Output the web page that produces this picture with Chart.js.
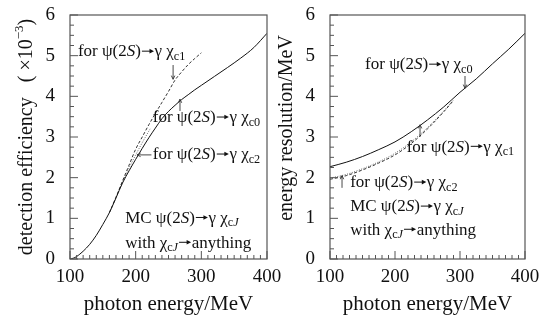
<!DOCTYPE html>
<html>
<head>
<meta charset="UTF-8">
<title>efficiency and resolution</title>
<script src="https://cdn.jsdelivr.net/npm/chart.js"></script>
<style>
  body { margin: 0; background: #fff; }
  .painel { position: absolute; top: 0; height: 324px; }
</style>
</head>
<body>
<div class="painel" style="left:0;width:290px"><canvas id="cEff" width="290" height="324"></canvas></div>
<div class="painel" style="left:270px;width:270px"><canvas id="cRes" width="270" height="324"></canvas></div>
<script>
// ---- dados ----
// eficiência (x 10^-3) vs energia do fóton (MeV)
const effE_c0 = [100, 105, 110, 115, 120, 130, 140, 150, 160, 170, 180, 190, 200, 210, 220, 230, 240, 250, 260, 270, 280, 290, 300, 320, 340, 360, 380, 400];
const eff_c0  = [0, 0.02, 0.06, 0.12, 0.19, 0.36, 0.58, 0.85, 1.14, 1.50, 1.87, 2.17, 2.45, 2.72, 2.98, 3.22, 3.45, 3.63, 3.78, 3.92, 4.04, 4.16, 4.27, 4.49, 4.71, 4.94, 5.20, 5.55];
const effE_c1 = [160, 170, 180, 190, 200, 210, 220, 230, 240, 250, 260, 270, 280, 290, 300];
const eff_c1  = [1.14, 1.52, 1.92, 2.31, 2.70, 3.00, 3.30, 3.58, 3.85, 4.12, 4.40, 4.60, 4.78, 4.93, 5.07];
const effE_c2 = [160, 170, 180, 190, 200, 210, 222];
const eff_c2  = [1.14, 1.51, 1.90, 2.24, 2.56, 2.86, 3.20];

// resolução (MeV) vs energia do fóton (MeV)
const resE_c0 = [100, 125, 150, 175, 200, 225, 250, 275, 300, 325, 350, 375, 400];
const res_c0  = [2.27, 2.38, 2.52, 2.69, 2.88, 3.13, 3.42, 3.74, 4.10, 4.43, 4.80, 5.16, 5.55];
const resE_c1 = [100, 125, 150, 175, 200, 225, 250, 275, 290];
const res_c1  = [1.96, 2.05, 2.19, 2.36, 2.56, 2.84, 3.20, 3.62, 3.90];
const resE_c2 = [100, 125, 150, 175, 200, 225, 250, 275, 290];
const res_c2  = [1.99, 2.08, 2.22, 2.39, 2.60, 2.88, 3.23, 3.64, 3.91];

const xTicks = [100, 200, 300, 400];
const yTicks = [0, 1, 2, 3, 4, 5, 6];

const SERIF = '"Liberation Serif", "DejaVu Serif", serif';

function pontos(xs, ys) {
    return xs.map((x, i) => ({ x: x, y: ys[i] }));
}

// textos com índices: n normal, i itálico, s subscrito, si subscrito itálico, a seta, p sobrescrito
function reacao(canal) {
    return [['for ψ(2', 'n'], ['S', 'i'], [')', 'n'], ['→', 'a'], ['γ χ', 'n'], [canal, 's']];
}
const linhaMC = [['MC ψ(2', 'n'], ['S', 'i'], [')', 'n'], ['→', 'a'], ['γ χ', 'n'], ['c', 's'], ['J', 'si']];
const linhaWith = [['with χ', 'n'], ['c', 's'], ['J', 'si'], ['→', 'a'], ['anything', 'n']];

function larguraParte(ctx, p, tam) {
    if (p[1] == 'a') return tam * 0.8;
    let f = tam, estilo = '';
    if (p[1] == 'i' || p[1] == 'si') estilo = 'italic ';
    if (p[1] == 's' || p[1] == 'si') f = tam * 0.72;
    if (p[1] == 'p') f = tam * 0.65;
    ctx.font = estilo + f + 'px ' + SERIF;
    return ctx.measureText(p[0]).width;
}

function desenhaRico(ctx, x, y, partes, tam) {
    ctx.textBaseline = 'middle';
    ctx.textAlign = 'left';
    let px = x;
    partes.forEach(function (p) {
        const w = larguraParte(ctx, p, tam);
        if (p[1] == 'a') {
            // seta pequena com ponta cheia, como na figura
            const ya = y - tam * 0.05;
            ctx.save();
            ctx.strokeStyle = ctx.fillStyle;
            ctx.lineWidth = 1;
            ctx.beginPath();
            ctx.moveTo(px + 1, ya);
            ctx.lineTo(px + w - 4, ya);
            ctx.stroke();
            ctx.beginPath();
            ctx.moveTo(px + w - 0.5, ya);
            ctx.lineTo(px + w - 5, ya - 2.3);
            ctx.lineTo(px + w - 5, ya + 2.3);
            ctx.closePath();
            ctx.fill();
            ctx.restore();
        } else {
            let dy = 0;
            if (p[1] == 's' || p[1] == 'si') dy = tam * 0.28;
            if (p[1] == 'p') dy = -tam * 0.38;
            ctx.fillText(p[0], px, y + dy);
        }
        px += w;
    });
    return px - x;
}

function seta(ctx, x1, y1, x2, y2) {
    ctx.beginPath();
    ctx.moveTo(x1, y1);
    ctx.lineTo(x2, y2);
    const a = Math.atan2(y2 - y1, x2 - x1);
    const h = 4;
    ctx.moveTo(x2 - h * Math.cos(a - 0.45), y2 - h * Math.sin(a - 0.45));
    ctx.lineTo(x2, y2);
    ctx.lineTo(x2 - h * Math.cos(a + 0.45), y2 - h * Math.sin(a + 0.45));
    ctx.stroke();
}

// moldura, ticks para dentro, títulos e anotações
const moldura = {
    id: 'moldura',
    afterDraw(chart, args, opts) {
        const ctx = chart.ctx;
        const a = chart.chartArea;
        const xs = chart.scales.x, ys = chart.scales.y;
        ctx.save();
        ctx.strokeStyle = '#555';
        ctx.lineWidth = 1.2;
        ctx.strokeRect(a.left, a.top, a.right - a.left, a.bottom - a.top);

        ctx.lineWidth = 1;
        ctx.beginPath();
        for (let v = 100; v <= 400; v += 10) {
            const px = xs.getPixelForValue(v);
            const len = (v % 100 == 0) ? 8 : 4;
            ctx.moveTo(px, a.bottom);
            ctx.lineTo(px, a.bottom - len);
        }
        for (let v = 0; v <= 6; v += 0.25) {
            const py = ys.getPixelForValue(v);
            const len = (v % 1 == 0) ? 8 : 4;
            ctx.moveTo(a.left, py);
            ctx.lineTo(a.left + len, py);
        }
        ctx.stroke();

        ctx.fillStyle = '#111';
        // título do eixo y
        ctx.save();
        ctx.translate(opts.yTitleX, opts.yTitleY);
        ctx.rotate(-Math.PI / 2);
        let w = 0;
        opts.yTitle.forEach(function (p) { w += larguraParte(ctx, p, 20); });
        desenhaRico(ctx, -w / 2, 0, opts.yTitle, 20);
        ctx.restore();

        // título do eixo x
        ctx.font = '21px ' + SERIF;
        ctx.textAlign = 'center';
        ctx.textBaseline = 'middle';
        ctx.fillText('photon energy/MeV', (a.left + a.right) / 2, 304);

        // anotações
        opts.notas.forEach(function (n) {
            desenhaRico(ctx, xs.getPixelForValue(n.x), ys.getPixelForValue(n.y), n.partes, 17);
        });
        ctx.strokeStyle = '#333';
        ctx.lineWidth = 0.9;
        opts.setas.forEach(function (s) {
            seta(ctx, xs.getPixelForValue(s[0]), ys.getPixelForValue(s[1]),
                 xs.getPixelForValue(s[2]), ys.getPixelForValue(s[3]));
        });
        ctx.restore();
    }
};

function serie(dados, tipo) {
    let dash = [];
    let cor = '#111';
    if (tipo == 'dash') { dash = [3, 2]; cor = '#333'; }
    if (tipo == 'dot') { dash = [1, 1.5]; cor = '#666'; }
    return {
        data: dados,
        borderColor: cor,
        borderWidth: 1,
        borderDash: dash,
        pointRadius: 0,
        fill: false,
        cubicInterpolationMode: 'monotone'
    };
}

function opcoes(larguraY, padDir, plug) {
    return {
        responsive: false,
        animation: false,
        layout: { padding: { top: 15, right: padDir, left: 0, bottom: 0 } },
        plugins: { legend: { display: false }, tooltip: { enabled: false }, moldura: plug },
        scales: {
            x: {
                type: 'linear', min: 100, max: 400,
                afterFit: function (s) { s.height = 65; s.paddingLeft = 0; s.paddingRight = 0; },
                afterBuildTicks: function (s) { s.ticks = xTicks.map(v => ({ value: v })); },
                grid: { display: false, drawTicks: false },
                border: { display: false },
                ticks: { padding: 7, color: '#111', font: { family: SERIF, size: 19 }, maxRotation: 0 }
            },
            y: {
                type: 'linear', min: 0, max: 6,
                afterFit: function (s) { s.width = larguraY; s.paddingTop = 0; s.paddingBottom = 0; },
                afterBuildTicks: function (s) { s.ticks = yTicks.map(v => ({ value: v })); },
                grid: { display: false, drawTicks: false },
                border: { display: false },
                ticks: { padding: 15, color: '#111', font: { family: SERIF, size: 19 } }
            }
        }
    };
}

new Chart(document.getElementById('cEff'), {
    type: 'line',
    data: {
        datasets: [
            serie(pontos(effE_c0, eff_c0), 'solid'),
            serie(pontos(effE_c1, eff_c1), 'dash'),
            serie(pontos(effE_c2, eff_c2), 'dot')
        ]
    },
    options: opcoes(70, 23, {
        yTitleX: 27, yTitleY: 137,
        yTitle: [['detection efficiency   ( ×10', 'n'], ['−3', 'p'], [')', 'n']],
        notas: [
            { x: 112, y: 5.09, partes: reacao('c1') },
            { x: 226, y: 3.47, partes: reacao('c0') },
            { x: 226, y: 2.56, partes: reacao('c2') },
            { x: 184, y: 1.0, partes: linhaMC },
            { x: 184, y: 0.39, partes: linhaWith }
        ],
        setas: [
            [257, 4.77, 257, 4.42],
            [267.5, 3.64, 267.5, 3.93],
            [224, 2.56, 202, 2.56]
        ]
    }),
    plugins: [moldura]
});

new Chart(document.getElementById('cRes'), {
    type: 'line',
    data: {
        datasets: [
            serie(pontos(resE_c0, res_c0), 'solid'),
            serie(pontos(resE_c1, res_c1), 'dash'),
            serie(pontos(resE_c2, res_c2), 'dot')
        ]
    },
    options: opcoes(60, 15, {
        yTitleX: 17, yTitleY: 128,
        yTitle: [['energy resolution/MeV', 'n']],
        notas: [
            { x: 154, y: 4.77, partes: reacao('c0') },
            { x: 218, y: 2.75, partes: reacao('c1') },
            { x: 131, y: 1.87, partes: reacao('c2') },
            { x: 131, y: 1.28, partes: linhaMC },
            { x: 131, y: 0.71, partes: linhaWith }
        ],
        setas: [
            [307.7, 4.50, 307.7, 4.20],
            [238.5, 3.0, 238.5, 3.30],
            [118.5, 1.75, 118.5, 2.05]
        ]
    }),
    plugins: [moldura]
});
</script>
</body>
</html>
